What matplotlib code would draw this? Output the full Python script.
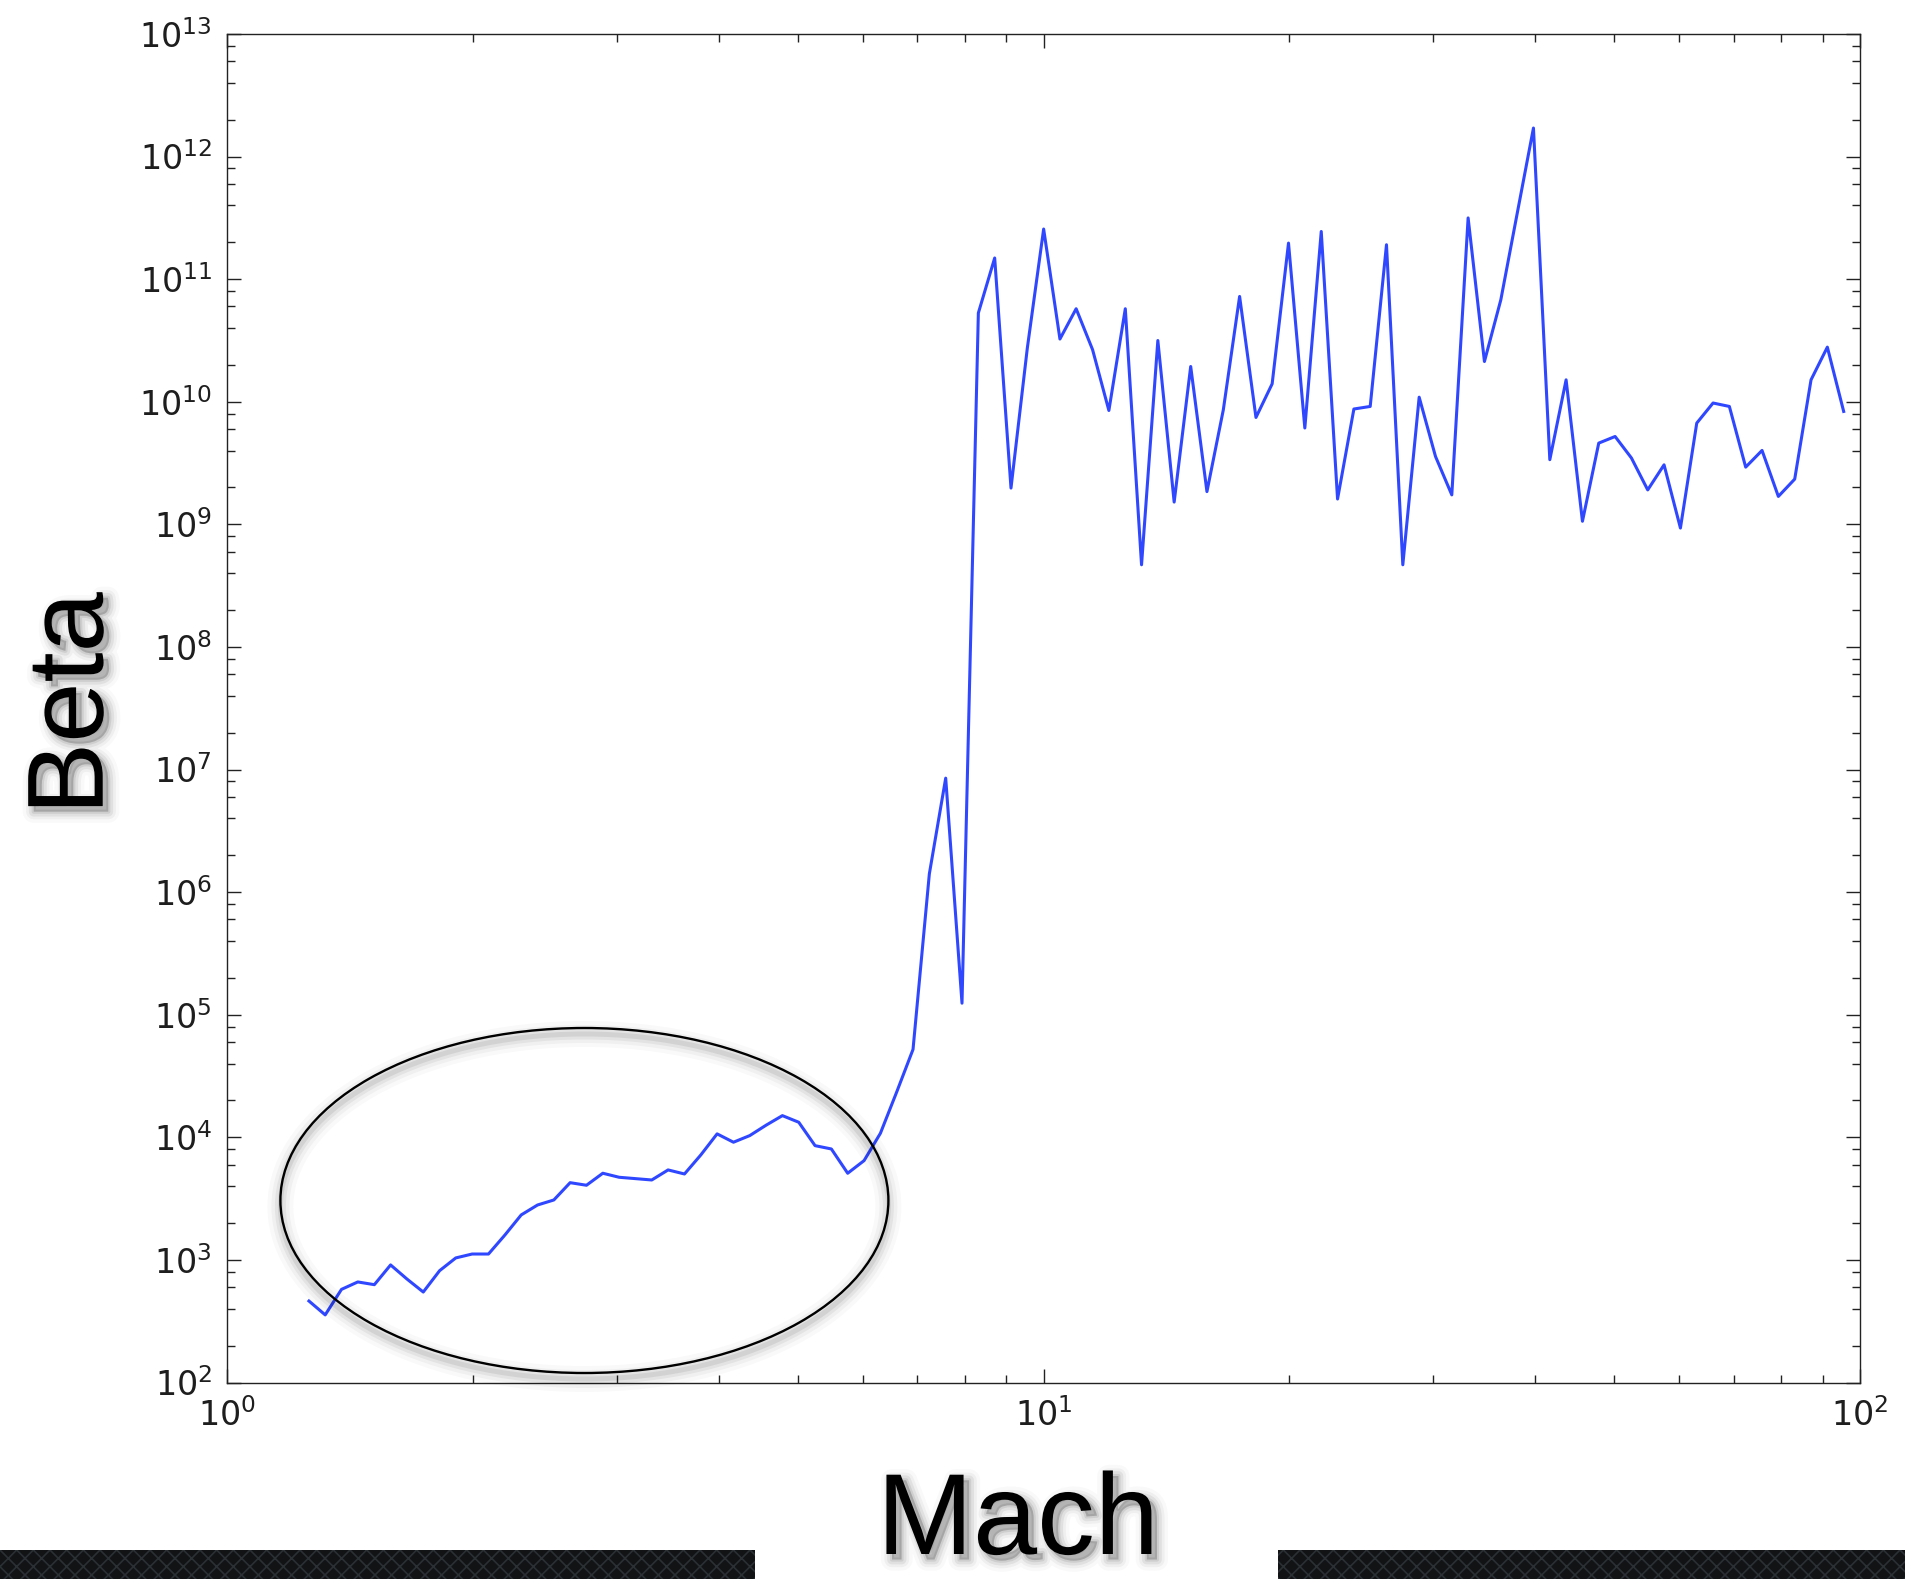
import numpy as np
import matplotlib
matplotlib.use("Agg")
import matplotlib.pyplot as plt
import matplotlib.patheffects as pe
from matplotlib.patches import Ellipse, Rectangle
from matplotlib.ticker import LogLocator, LogFormatterMathtext, NullFormatter

# Mach number of each sample
mach = [1.259, 1.318, 1.380, 1.445, 1.514, 1.585, 1.660, 1.738, 1.820, 1.905,
        1.995, 2.089, 2.188, 2.291, 2.399, 2.512, 2.630, 2.754, 2.884, 3.020,
        3.162, 3.311, 3.467, 3.631, 3.802, 3.981, 4.169, 4.365, 4.571, 4.786,
        5.012, 5.248, 5.495, 5.754, 6.026, 6.310, 6.607, 6.918, 7.244, 7.586,
        7.943, 8.318, 8.710, 9.120, 9.550, 10.00, 10.47, 10.96, 11.48, 12.02,
        12.59, 13.18, 13.80, 14.45, 15.14, 15.85, 16.60, 17.38, 18.20, 19.05,
        19.95, 20.89, 21.88, 22.91, 23.99, 25.12, 26.30, 27.54, 28.84, 30.20,
        31.62, 33.11, 34.67, 36.31, 38.02, 39.81, 41.69, 43.65, 45.71, 47.86,
        50.12, 52.48, 54.95, 57.54, 60.26, 63.10, 66.07, 69.18, 72.44, 75.86,
        79.43, 83.18, 87.10, 91.20, 95.50]

# plasma beta at each Mach number
beta = [462, 356, 575, 661, 628, 910, 698, 547, 817, 1038,
        1117, 1117, 1596, 2328, 2805, 3083, 4266, 4064, 5093, 4721,
        4603, 4487, 5420, 5023, 7178, 10670, 9120, 10330, 12560, 15030,
        13270, 8551, 8035, 5093, 6457, 10790, 23440, 52120, 1.409e6, 8.51e6,
        1.242e5, 5.30e10, 1.489e11, 1.977e9, 2.742e10, 2.565e11, 3.25e10, 5.74e10, 2.66e10, 8.49e9,
        5.74e10, 4.68e8, 3.16e10, 1.52e9, 1.94e10, 1.85e9, 8.61e9, 7.23e10, 7.45e9, 1.40e10,
        1.97e11, 6.11e9, 2.45e11, 1.61e9, 8.73e9, 9.16e9, 1.91e11, 4.68e8, 1.09e10, 3.58e9,
        1.74e9, 3.16e11, 2.13e10, 6.79e10, 3.42e11, 1.71e12, 3.37e9, 1.51e10, 1.06e9, 4.60e9,
        5.21e9, 3.48e9, 1.91e9, 3.06e9, 9.33e8, 6.70e9, 9.77e9, 9.16e9, 2.93e9, 4.01e9,
        1.69e9, 2.34e9, 1.51e10, 2.79e10, 8.34e9]

x_limits = (1, 100)
y_limits = (1e2, 1e13)

W, H = 1905, 1579
fig = plt.figure(figsize=(W / 100, H / 100), dpi=100)
fig.patch.set_facecolor("white")

ax = fig.add_axes([227.3 / W, (H - 1382.5) / H, (1860 - 227.3) / W, (1382.5 - 34) / H])
ax.plot(mach, beta, color="#2f47ff", lw=2.2)
ax.set_xscale("log")
ax.set_yscale("log")
ax.set_xlim(*x_limits)
ax.set_ylim(*y_limits)

ax.xaxis.set_major_locator(LogLocator(base=10, numticks=20))
ax.xaxis.set_minor_locator(LogLocator(base=10, subs=np.arange(2, 10), numticks=20))
ax.yaxis.set_major_locator(LogLocator(base=10, numticks=20))
ax.yaxis.set_minor_locator(LogLocator(base=10, subs=[2, 4, 6, 8], numticks=20))
for axis in (ax.xaxis, ax.yaxis):
    axis.set_major_formatter(LogFormatterMathtext())
    axis.set_minor_formatter(NullFormatter())

ax.tick_params(which="both", direction="in", top=True, right=True,
               labelsize=24, pad=11, labelcolor="#1e1e1e", color="#222222")
ax.tick_params(which="major", length=10, width=1.0)
ax.tick_params(which="minor", length=6, width=1.0)
for sp in ax.spines.values():
    sp.set_linewidth(1.0)
    sp.set_color("#222222")


def soft_shadow(dx, dy):
    layers = []
    for w, a in [(16, 0.025), (11, 0.04), (7, 0.06), (3, 0.08)]:
        layers.append(pe.Stroke(offset=(dx, dy), linewidth=w, foreground="black", alpha=a))
    layers.append(pe.Normal())
    return layers


label_font = ["Liberation Sans", "DejaVu Sans"]

fig.text(102.7 / W, 1 - 703.4 / H, "Beta", rotation=90, rotation_mode="anchor",
         ha="center", va="baseline", fontsize=78, family=label_font,
         color="black", path_effects=soft_shadow(4, -4))

fig.text(1018 / W, 1 / H, "Mach", ha="center", va="bottom",
         fontsize=83, family=label_font, color="black",
         path_effects=soft_shadow(4, -4))

# highlight ring around the low-Mach branch, with a soft drop shadow
cx, cy, ew, eh = 584.4, 1200.5, 608, 345
for w, a in [(26, 0.025), (18, 0.035), (11, 0.05), (5, 0.07)]:
    fig.add_artist(Ellipse((cx / W, 1 - (cy + 6) / H), ew / W, eh / H,
                           transform=fig.transFigure, fill=False,
                           edgecolor="black", lw=w * 0.72, alpha=a))
fig.add_artist(Ellipse((cx / W, 1 - cy / H), ew / W, eh / H,
                       transform=fig.transFigure, fill=False,
                       edgecolor="black", lw=1.7))

# textured bars along the bottom edge
plt.rcParams["hatch.linewidth"] = 1.2
for x0, x1 in [(0, 755), (1278, W)]:
    fig.add_artist(Rectangle((x0 / W, 0), (x1 - x0) / W, 29 / H,
                             transform=fig.transFigure, facecolor="#111315",
                             edgecolor="#2b3034", hatch="xx", lw=0))

fig.savefig("out.png", dpi=100, facecolor="white")
